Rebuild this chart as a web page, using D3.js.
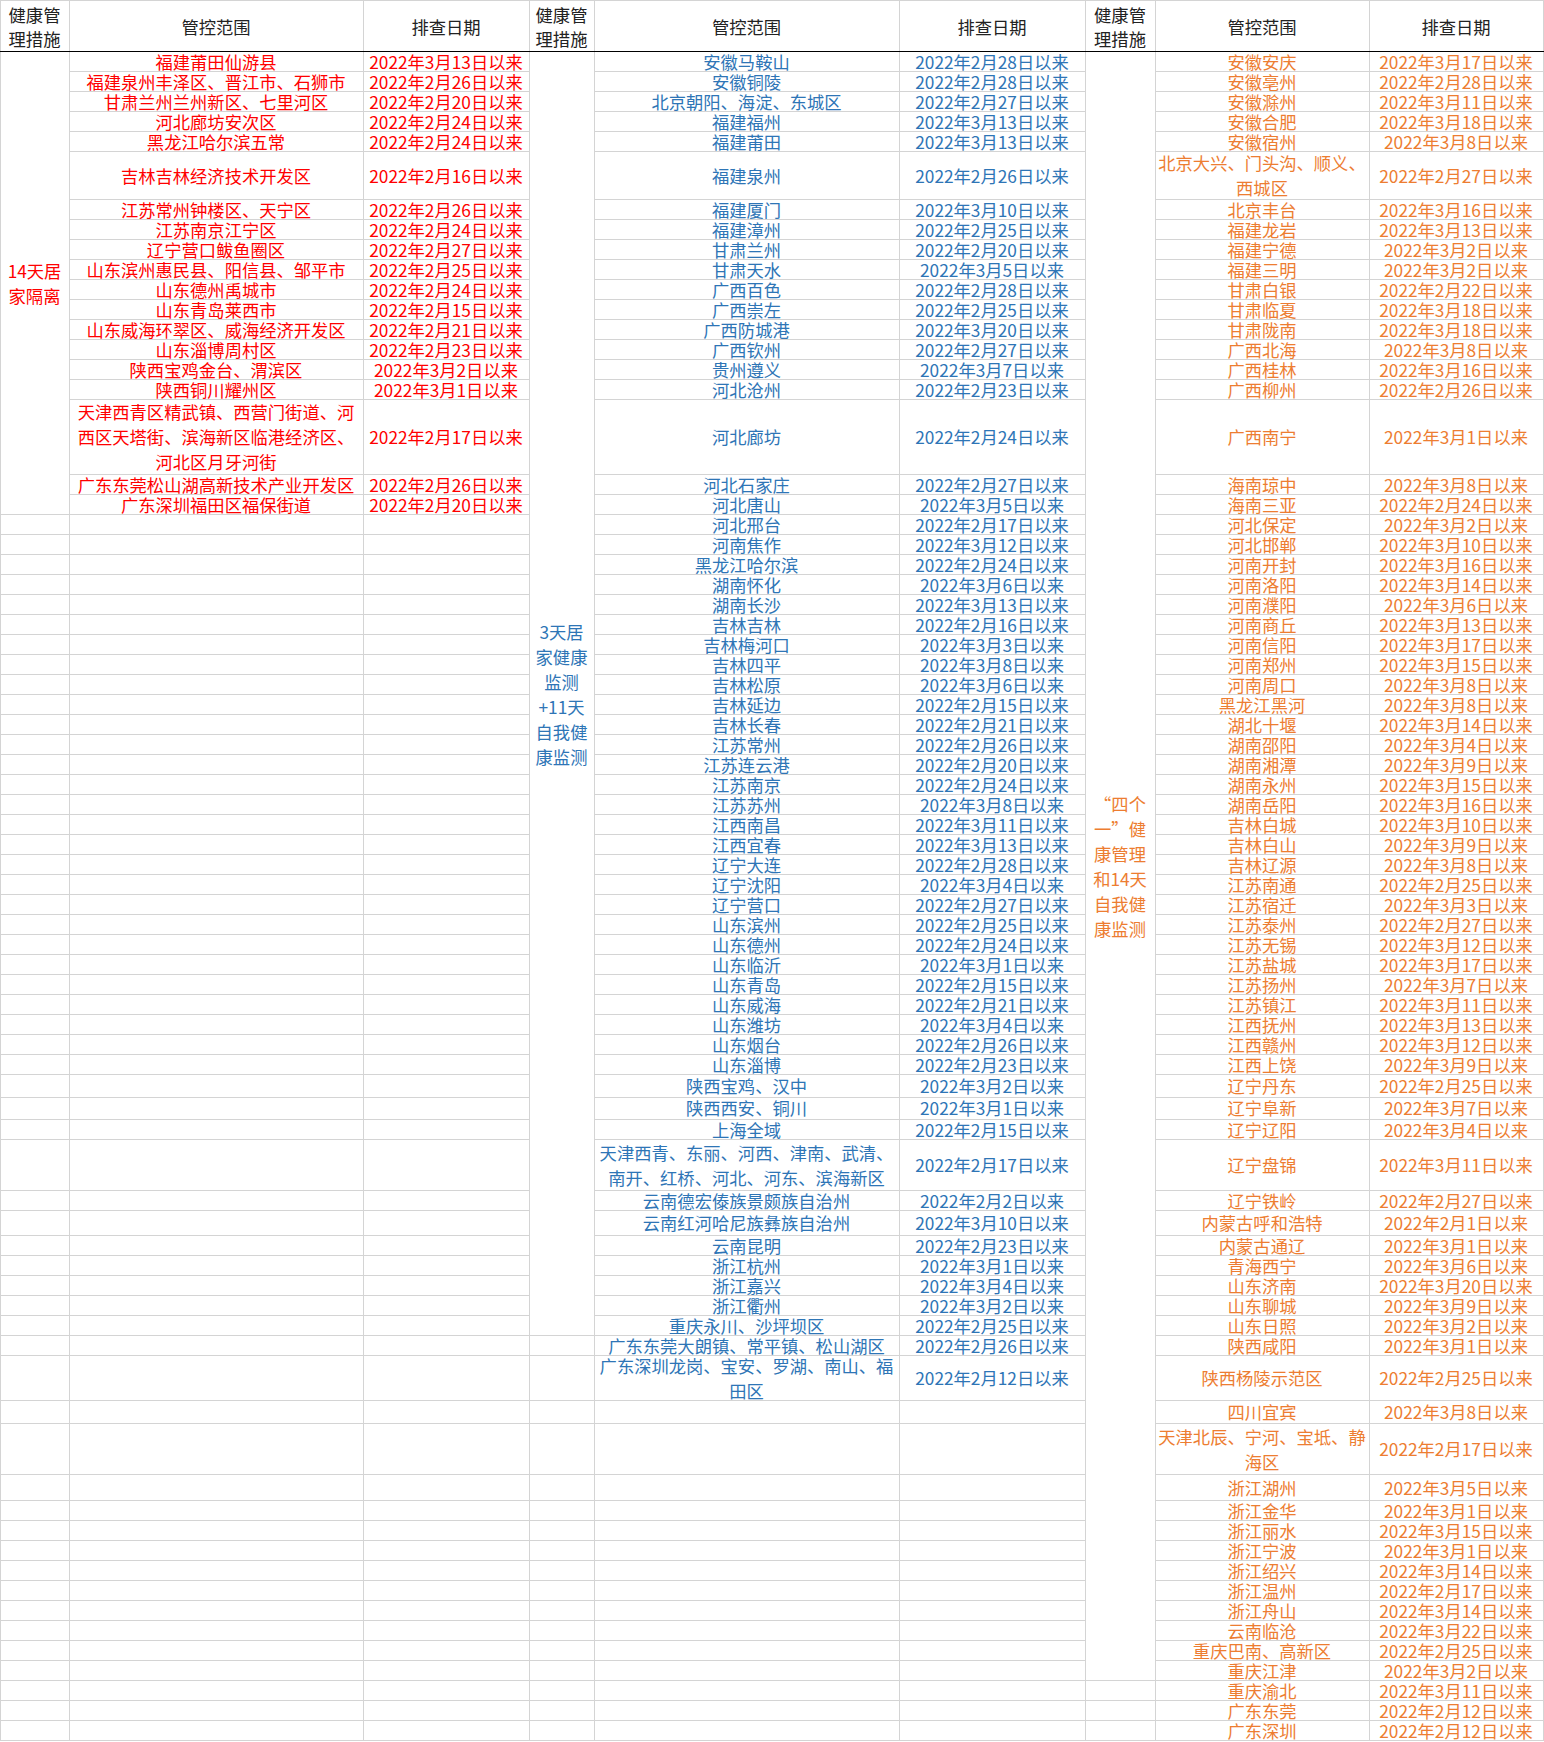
<!DOCTYPE html>
<html><head><meta charset="utf-8">
<script src="https://cdn.jsdelivr.net/npm/d3@7"></script>
<style>html,body{margin:0;padding:0;background:#fff}svg{display:block}</style>
</head><body><svg id="chart"></svg>
<script>
// ---------------- DATA ----------------
const headers = ["健康管\n理措施", "管控范围", "排查日期"];
const measures = [
  "14天居\n家隔离",
  "3天居\n家健康\n监测\n+11天\n自我健\n康监测",
  "“四个\n一”健\n康管理\n和14天\n自我健\n康监测"
];
const isolationScope = ["福建莆田仙游县","福建泉州丰泽区、晋江市、石狮市","甘肃兰州兰州新区、七里河区","河北廊坊安次区","黑龙江哈尔滨五常","吉林吉林经济技术开发区","江苏常州钟楼区、天宁区","江苏南京江宁区","辽宁营口鲅鱼圈区","山东滨州惠民县、阳信县、邹平市","山东德州禹城市","山东青岛莱西市","山东威海环翠区、威海经济开发区","山东淄博周村区","陕西宝鸡金台、渭滨区","陕西铜川耀州区","天津西青区精武镇、西营门街道、河\n西区天塔街、滨海新区临港经济区、\n河北区月牙河街","广东东莞松山湖高新技术产业开发区","广东深圳福田区福保街道"];
const isolationDate = ["2022年3月13日以来","2022年2月26日以来","2022年2月20日以来","2022年2月24日以来","2022年2月24日以来","2022年2月16日以来","2022年2月26日以来","2022年2月24日以来","2022年2月27日以来","2022年2月25日以来","2022年2月24日以来","2022年2月15日以来","2022年2月21日以来","2022年2月23日以来","2022年3月2日以来","2022年3月1日以来","2022年2月17日以来","2022年2月26日以来","2022年2月20日以来"];
const monitorScope = ["安徽马鞍山","安徽铜陵","北京朝阳、海淀、东城区","福建福州","福建莆田","福建泉州","福建厦门","福建漳州","甘肃兰州","甘肃天水","广西百色","广西崇左","广西防城港","广西钦州","贵州遵义","河北沧州","河北廊坊","河北石家庄","河北唐山","河北邢台","河南焦作","黑龙江哈尔滨","湖南怀化","湖南长沙","吉林吉林","吉林梅河口","吉林四平","吉林松原","吉林延边","吉林长春","江苏常州","江苏连云港","江苏南京","江苏苏州","江西南昌","江西宜春","辽宁大连","辽宁沈阳","辽宁营口","山东滨州","山东德州","山东临沂","山东青岛","山东威海","山东潍坊","山东烟台","山东淄博","陕西宝鸡、汉中","陕西西安、铜川","上海全域","天津西青、东丽、河西、津南、武清、\n南开、红桥、河北、河东、滨海新区","云南德宏傣族景颇族自治州","云南红河哈尼族彝族自治州","云南昆明","浙江杭州","浙江嘉兴","浙江衢州","重庆永川、沙坪坝区","广东东莞大朗镇、常平镇、松山湖区","广东深圳龙岗、宝安、罗湖、南山、福\n田区"];
const monitorDate = ["2022年2月28日以来","2022年2月28日以来","2022年2月27日以来","2022年3月13日以来","2022年3月13日以来","2022年2月26日以来","2022年3月10日以来","2022年2月25日以来","2022年2月20日以来","2022年3月5日以来","2022年2月28日以来","2022年2月25日以来","2022年3月20日以来","2022年2月27日以来","2022年3月7日以来","2022年2月23日以来","2022年2月24日以来","2022年2月27日以来","2022年3月5日以来","2022年2月17日以来","2022年3月12日以来","2022年2月24日以来","2022年3月6日以来","2022年3月13日以来","2022年2月16日以来","2022年3月3日以来","2022年3月8日以来","2022年3月6日以来","2022年2月15日以来","2022年2月21日以来","2022年2月26日以来","2022年2月20日以来","2022年2月24日以来","2022年3月8日以来","2022年3月11日以来","2022年3月13日以来","2022年2月28日以来","2022年3月4日以来","2022年2月27日以来","2022年2月25日以来","2022年2月24日以来","2022年3月1日以来","2022年2月15日以来","2022年2月21日以来","2022年3月4日以来","2022年2月26日以来","2022年2月23日以来","2022年3月2日以来","2022年3月1日以来","2022年2月15日以来","2022年2月17日以来","2022年2月2日以来","2022年3月10日以来","2022年2月23日以来","2022年3月1日以来","2022年3月4日以来","2022年3月2日以来","2022年2月25日以来","2022年2月26日以来","2022年2月12日以来"];
const fourOneScope = ["安徽安庆","安徽亳州","安徽滁州","安徽合肥","安徽宿州","北京大兴、门头沟、顺义、\n西城区","北京丰台","福建龙岩","福建宁德","福建三明","甘肃白银","甘肃临夏","甘肃陇南","广西北海","广西桂林","广西柳州","广西南宁","海南琼中","海南三亚","河北保定","河北邯郸","河南开封","河南洛阳","河南濮阳","河南商丘","河南信阳","河南郑州","河南周口","黑龙江黑河","湖北十堰","湖南邵阳","湖南湘潭","湖南永州","湖南岳阳","吉林白城","吉林白山","吉林辽源","江苏南通","江苏宿迁","江苏泰州","江苏无锡","江苏盐城","江苏扬州","江苏镇江","江西抚州","江西赣州","江西上饶","辽宁丹东","辽宁阜新","辽宁辽阳","辽宁盘锦","辽宁铁岭","内蒙古呼和浩特","内蒙古通辽","青海西宁","山东济南","山东聊城","山东日照","陕西咸阳","陕西杨陵示范区","四川宜宾","天津北辰、宁河、宝坻、静\n海区","浙江湖州","浙江金华","浙江丽水","浙江宁波","浙江绍兴","浙江温州","浙江舟山","云南临沧","重庆巴南、高新区","重庆江津","重庆渝北","广东东莞","广东深圳"];
const fourOneDate = ["2022年3月17日以来","2022年2月28日以来","2022年3月11日以来","2022年3月18日以来","2022年3月8日以来","2022年2月27日以来","2022年3月16日以来","2022年3月13日以来","2022年3月2日以来","2022年3月2日以来","2022年2月22日以来","2022年3月18日以来","2022年3月18日以来","2022年3月8日以来","2022年3月16日以来","2022年2月26日以来","2022年3月1日以来","2022年3月8日以来","2022年2月24日以来","2022年3月2日以来","2022年3月10日以来","2022年3月16日以来","2022年3月14日以来","2022年3月6日以来","2022年3月13日以来","2022年3月17日以来","2022年3月15日以来","2022年3月8日以来","2022年3月8日以来","2022年3月14日以来","2022年3月4日以来","2022年3月9日以来","2022年3月15日以来","2022年3月16日以来","2022年3月10日以来","2022年3月9日以来","2022年3月8日以来","2022年2月25日以来","2022年3月3日以来","2022年2月27日以来","2022年3月12日以来","2022年3月17日以来","2022年3月7日以来","2022年3月11日以来","2022年3月13日以来","2022年3月12日以来","2022年3月9日以来","2022年2月25日以来","2022年3月7日以来","2022年3月4日以来","2022年3月11日以来","2022年2月27日以来","2022年2月1日以来","2022年3月1日以来","2022年3月6日以来","2022年3月20日以来","2022年3月9日以来","2022年3月2日以来","2022年3月1日以来","2022年2月25日以来","2022年3月8日以来","2022年2月17日以来","2022年3月5日以来","2022年3月1日以来","2022年3月15日以来","2022年3月1日以来","2022年3月14日以来","2022年2月17日以来","2022年3月14日以来","2022年3月22日以来","2022年2月25日以来","2022年3月2日以来","2022年3月11日以来","2022年2月12日以来","2022年2月12日以来"];

// ---------------- LAYOUT ----------------
const W = 1544, H = 1742, headerH = 51;
const rowHeights = [20,20,20,20,20,48,20,20,20,20,20,20,20,20,20,20,75,
  20,20,20,20,20,20,20,20,20,20,20,20,20,20,20,20,20,20,20,20,20,20,20,20,20,20,20,20,20,20,
  22.5,22.5,20,51,20,25,20,20,20,20,20,20,45,23,51,26,
  20,20,20,20,20,20,20,20,20,20,20,20];
const colEdges = [0,69,363,529,594,899,1085,1155,1369,1543];
const groupColors = ["#ff0000","#2e75b6","#ed7d31"];
const mergedUntil = [19,58,72];
const gridColor = "#d4d4d4";
const fontFam = "'Noto Sans CJK SC','Noto Sans',sans-serif";
const fontSize = 17.3;
const lineH = 25;

const groups = [
  {scope: isolationScope, date: isolationDate},
  {scope: monitorScope, date: monitorDate},
  {scope: fourOneScope, date: fourOneDate}
];
const nRows = d3.max(groups, g => g.scope.length);
const rowTop = [headerH, ...Array.from(d3.cumsum(rowHeights.slice(0, nRows))).map(v => headerH + v)];
const y = d3.scaleOrdinal().domain(d3.range(nRows + 1)).range(rowTop);

const svg = d3.select("#chart").attr("width", W).attr("height", H)
  .style("font-family", fontFam);
svg.append("rect").attr("width", W).attr("height", H).attr("fill", "#fff");

const gridG = svg.append("g").attr("shape-rendering", "crispEdges");
const textG = svg.append("g");

function cell(x0, x1, y0, y1) {
  gridG.append("rect")
    .attr("x", x0 + 0.5).attr("y", y0 + 0.5)
    .attr("width", x1 - x0).attr("height", y1 - y0)
    .attr("fill", "none").attr("stroke", gridColor).attr("stroke-width", 1);
}
function label(str, cx, cy, color, lh) {
  const lines = str.split("\n");
  const t = textG.append("text")
    .attr("text-anchor", "middle")
    .attr("font-size", fontSize)
    .attr("fill", color)
    .attr("dominant-baseline", "central");
  lines.forEach((ln, i) => {
    t.append("tspan").attr("x", cx)
      .attr("y", cy + (i - (lines.length - 1) / 2) * lh)
      .text(ln);
  });
}

groups.forEach((g, gi) => {
  const cx = colEdges.slice(gi * 3, gi * 3 + 4);
  // header cells
  for (let c = 0; c < 3; c++) {
    cell(cx[c], cx[c + 1], 0, headerH);
    label(headers[c], (cx[c] + cx[c + 1]) / 2, headerH / 2, "#222", 24);
  }
  // merged measure cell
  const m = mergedUntil[gi];
  cell(cx[0], cx[1], y(0), y(m));
  label(measures[gi], (cx[0] + cx[1]) / 2, (y(0) + y(m)) / 2, groupColors[gi], lineH);
  for (let r = m; r < nRows; r++) cell(cx[0], cx[1], y(r), y(r + 1));
  // body rows
  for (let r = 0; r < nRows; r++) {
    cell(cx[1], cx[2], y(r), y(r + 1));
    cell(cx[2], cx[3], y(r), y(r + 1));
    const cy = (y(r) + y(r + 1)) / 2 - 0.5;
    if (r < g.scope.length) {
      label(g.scope[r], (cx[1] + cx[2]) / 2, cy, groupColors[gi], lineH);
      label(g.date[r], (cx[2] + cx[3]) / 2, cy, groupColors[gi], lineH);
    }
  }
});

// header bottom rule
svg.append("line").attr("shape-rendering", "crispEdges")
  .attr("x1", 0).attr("x2", W).attr("y1", headerH + 0.5).attr("y2", headerH + 0.5)
  .attr("stroke", "#000").attr("stroke-width", 1);
</script>
</body></html>
